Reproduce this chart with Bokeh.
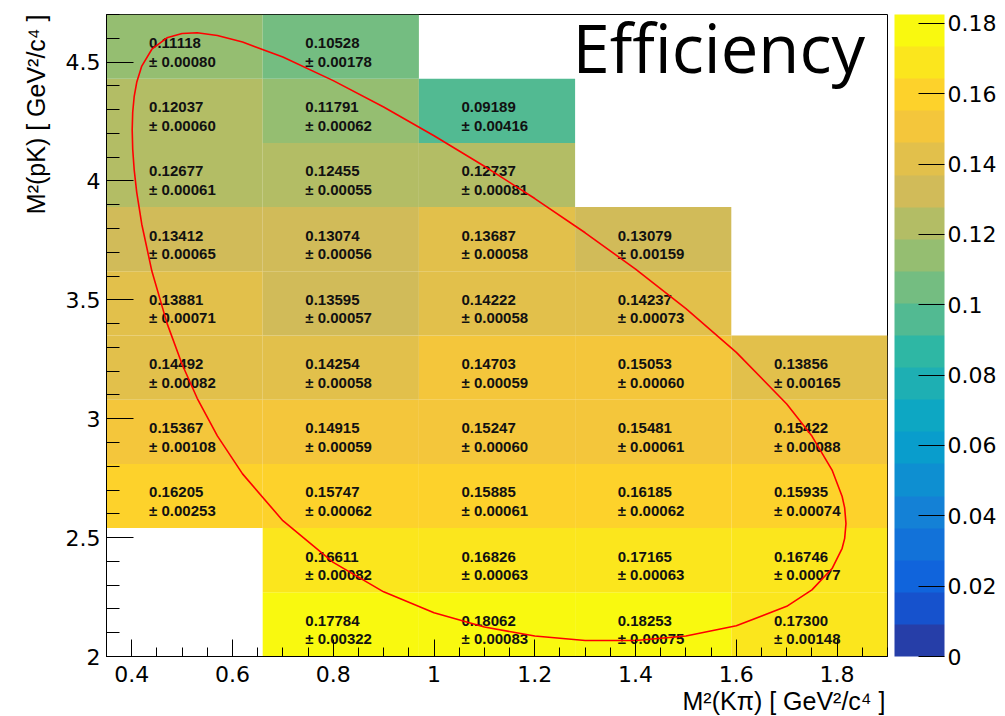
import numpy as np
from bokeh.plotting import figure
from bokeh.models import (ColumnDataSource, LinearColorMapper, ColorBar, FixedTicker,
                          CustomJSTickFormatter, Label, Range1d, Title)
from bokeh.transform import transform
from bokeh.core.properties import value
from bokeh.embed import file_html
from bokeh.resources import INLINE

# ---------------- data ----------------
# bin edges of M^2(K pi) (x) and M^2(pK) (y), in GeV^2/c^4
mkpi_edges = [0.35, 0.66, 0.97, 1.28, 1.59, 1.90]
mpk_edges = [2.00, 2.27, 2.54, 2.81, 3.08, 3.35, 3.62, 3.89, 4.16, 4.43, 4.70]

# efficiency per cell: rows bottom -> top, columns left -> right (None = empty)
efficiency = [
    [None, 0.17784, 0.18062, 0.18253, 0.17300],
    [None, 0.16611, 0.16826, 0.17165, 0.16746],
    [0.16205, 0.15747, 0.15885, 0.16185, 0.15935],
    [0.15367, 0.14915, 0.15247, 0.15481, 0.15422],
    [0.14492, 0.14254, 0.14703, 0.15053, 0.13856],
    [0.13881, 0.13595, 0.14222, 0.14237, None],
    [0.13412, 0.13074, 0.13687, 0.13079, None],
    [0.12677, 0.12455, 0.12737, None, None],
    [0.12037, 0.11791, 0.09189, None, None],
    [0.11118, 0.10528, None, None, None],
]
uncertainty = [
    [None, 0.00322, 0.00083, 0.00075, 0.00148],
    [None, 0.00082, 0.00063, 0.00063, 0.00077],
    [0.00253, 0.00062, 0.00061, 0.00062, 0.00074],
    [0.00108, 0.00059, 0.00060, 0.00061, 0.00088],
    [0.00082, 0.00058, 0.00059, 0.00060, 0.00165],
    [0.00071, 0.00057, 0.00058, 0.00073, None],
    [0.00065, 0.00056, 0.00058, 0.00159, None],
    [0.00061, 0.00055, 0.00081, None, None],
    [0.00060, 0.00062, 0.00416, None, None],
    [0.00080, 0.00178, None, None, None],
]

# phase-space (Dalitz) boundary
boundary_mkpi = [0.401, 0.402, 0.405, 0.41, 0.42, 0.44, 0.47, 0.50, 0.53, 0.57, 0.62, 0.70,
                 0.80, 0.90, 1.00, 1.10, 1.20, 1.30, 1.40, 1.50, 1.60, 1.70, 1.75, 1.79,
                 1.81, 1.815, 1.8176, 1.815, 1.81, 1.79, 1.75, 1.70, 1.60, 1.50, 1.40,
                 1.30, 1.20, 1.10, 1.00, 0.90, 0.80, 0.70, 0.62, 0.57, 0.53, 0.50, 0.47,
                 0.44, 0.42, 0.41, 0.405, 0.402, 0.401]
boundary_mpk = [4.215, 4.289, 4.356, 4.415, 4.483, 4.554, 4.602, 4.620, 4.623, 4.612, 4.584,
                4.521, 4.422, 4.311, 4.190, 4.062, 3.926, 3.782, 3.629, 3.463, 3.279, 3.062,
                2.927, 2.784, 2.673, 2.625, 2.559, 2.497, 2.455, 2.370, 2.280, 2.211, 2.129,
                2.086, 2.067, 2.067, 2.086, 2.124, 2.184, 2.272, 2.396, 2.571, 2.768, 2.928,
                3.086, 3.229, 3.402, 3.621, 3.818, 3.952, 4.046, 4.134, 4.215]

x_ticks = [0.4, 0.6, 0.8, 1.0, 1.2, 1.4, 1.6, 1.8]
y_ticks = [2.0, 2.5, 3.0, 3.5, 4.0, 4.5]
z_ticks = [0.0, 0.02, 0.04, 0.06, 0.08, 0.1, 0.12, 0.14, 0.16, 0.18]
z_min, z_max = 0.0, 0.18253
n_levels = 20

x_title = "M\u00b2(K\u03c0) [ GeV\u00b2/c\u2074 ]"
y_title = "M\u00b2(pK) [ GeV\u00b2/c\u2074 ]"
plot_title = "Efficiency"

# ---------------- palette (ROOT kBird, 20 contour levels) ----------------
bird_stops = [0.0, 0.125, 0.25, 0.375, 0.5, 0.625, 0.75, 0.875, 1.0]
bird_r = [0.2082, 0.0592, 0.0780, 0.0232, 0.1802, 0.5301, 0.8186, 0.9956, 0.9764]
bird_g = [0.1664, 0.3599, 0.5041, 0.6419, 0.7178, 0.7492, 0.7328, 0.7862, 0.9832]
bird_b = [0.5293, 0.8684, 0.8385, 0.7914, 0.6425, 0.4662, 0.3499, 0.1968, 0.0539]


def gradient(ncol=255):
    out = []
    for g in range(1, len(bird_stops)):
        n = int(np.floor(ncol * bird_stops[g])) - int(np.floor(ncol * bird_stops[g - 1]))
        for c in range(n):
            f = c / n
            r = bird_r[g - 1] + f * (bird_r[g] - bird_r[g - 1])
            gg = bird_g[g - 1] + f * (bird_g[g] - bird_g[g - 1])
            b = bird_b[g - 1] + f * (bird_b[g] - bird_b[g - 1])
            out.append("#%02x%02x%02x" % (round(r * 255), round(gg * 255), round(b * 255)))
    return out


grad = gradient()
palette = [grad[int((i + 0.99) * len(grad) / n_levels)] for i in range(n_levels)]

# ---------------- cells ----------------
cell = dict(left=[], right=[], bottom=[], top=[], cx=[], cy=[], z=[], vtxt=[], etxt=[])
for r, row in enumerate(efficiency):
    for c, v in enumerate(row):
        if v is None:
            continue
        cell["left"].append(mkpi_edges[c])
        cell["right"].append(mkpi_edges[c + 1])
        cell["bottom"].append(mpk_edges[r])
        cell["top"].append(mpk_edges[r + 1])
        cell["cx"].append(0.5 * (mkpi_edges[c] + mkpi_edges[c + 1]))
        cell["cy"].append(0.5 * (mpk_edges[r] + mpk_edges[r + 1]))
        cell["z"].append(v)
        cell["vtxt"].append("%.5f" % v)
        cell["etxt"].append("\u00b1 %.5f" % uncertainty[r][c])
src = ColumnDataSource(cell)

shift = 0.01 * (z_max - z_min) / n_levels
cell_mapper = LinearColorMapper(palette=palette, low=z_min - shift, high=z_max - shift)
bar_mapper = LinearColorMapper(palette=palette, low=z_min, high=z_max)

p = figure(frame_width=781, frame_height=642,
           x_range=Range1d(mkpi_edges[0], mkpi_edges[-1]),
           y_range=Range1d(mpk_edges[0], mpk_edges[-1]),
           output_backend="svg", toolbar_location=None,
           min_border_left=106, min_border_right=116, min_border_top=14, min_border_bottom=60,
           background_fill_color="white", border_fill_color="white")
p.outline_line_color = "black"
p.outline_line_width = 1
p.xgrid.visible = False
p.ygrid.visible = False

p.quad(left="left", right="right", bottom="bottom", top="top", source=src,
       fill_color=transform("z", cell_mapper), line_color=None)

TXT = value("Liberation Sans")
p.text(x="cx", y="cy", text="vtxt", source=src, text_font=TXT, text_font_style="bold",
       text_font_size="15px", text_color="#111111", text_align="left",
       text_baseline="alphabetic", x_offset=-35.5, y_offset=-3.6)
p.text(x="cx", y="cy", text="etxt", source=src, text_font=TXT, text_font_style="bold",
       text_font_size="15px", text_color="#111111", text_align="left",
       text_baseline="alphabetic", x_offset=-35.5, y_offset=14.5)

p.line(boundary_mkpi, boundary_mpk, line_color="#ff0000", line_width=1.6)

fmt = CustomJSTickFormatter(code="return tick.toString();")
TICKF = "DejaVu Sans"
LBL = "Liberation Sans"

p.xaxis.ticker = FixedTicker(ticks=x_ticks,
                             minor_ticks=[round(0.35 + 0.05 * i, 2) for i in range(32)])
p.yaxis.ticker = FixedTicker(ticks=y_ticks,
                             minor_ticks=[round(2.0 + 0.1 * i, 1) for i in range(28)])
for ax in (p.xaxis[0], p.yaxis[0]):
    ax.formatter = fmt
    ax.axis_line_color = "black"
    ax.major_tick_line_color = "black"
    ax.minor_tick_line_color = "black"
    ax.major_tick_out = 0
    ax.minor_tick_out = 0
    ax.major_label_text_font = TICKF
    ax.major_label_text_font_size = "22px"
    ax.major_label_text_color = "black"
p.xaxis.major_tick_in = 17
p.xaxis.minor_tick_in = 9
p.xaxis.major_label_standoff = 9
p.yaxis.major_tick_in = 27
p.yaxis.minor_tick_in = 13
p.yaxis.major_label_standoff = 6

# axis titles, right/top aligned as in ROOT
p.add_layout(Title(text=x_title, align="right", text_font=LBL, text_font_size="25px",
                   text_font_style="normal", text_color="black", standoff=0, offset=2),
             "below")
p.add_layout(Title(text=y_title, align="right", text_font=LBL, text_font_size="25px",
                   text_font_style="normal", text_color="black", standoff=26, offset=0),
             "left")

cb = ColorBar(color_mapper=bar_mapper, ticker=FixedTicker(ticks=z_ticks), formatter=fmt,
              width=50, height=642, padding=0, margin=0, location=(7, 0),
              major_tick_in=26, major_tick_out=0, major_tick_line_color="black",
              minor_tick_line_color=None, bar_line_color=None, border_line_color=None,
              label_standoff=3, major_label_text_font=TICKF,
              major_label_text_font_size="22px", major_label_text_color="black",
              background_fill_color=None)
p.add_layout(cb, "right")

p.add_layout(Label(x=466, y=610, x_units="screen", y_units="screen",
                   text=plot_title, text_align="left", text_baseline="alphabetic",
                   text_font="Open Sans", text_font_size="67px", text_color="black"))

open("out.html", "w").write(file_html(p, INLINE))
